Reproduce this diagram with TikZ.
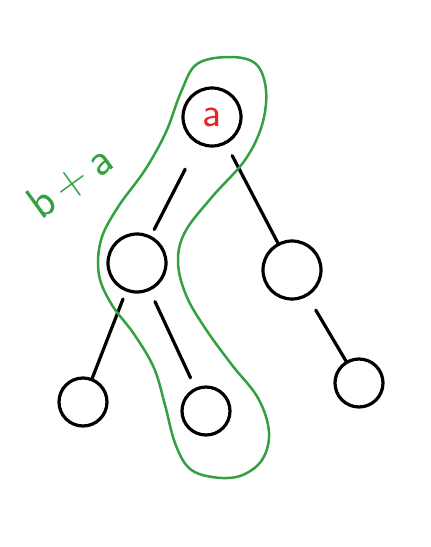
\documentclass[tikz,border=0pt]{standalone}
\usepackage{xcolor}
\usepackage{tikz}
\usetikzlibrary{positioning}
\definecolor{penred}{RGB}{228,38,38}
\definecolor{pengreen}{RGB}{52,160,64}

\begin{document}
\begin{tikzpicture}[
  x=1pt, y=-1pt,
  vertex/.style={draw=black, circle, line width=3.2pt, inner sep=0pt},
  big/.style={vertex, minimum size=58pt},
  small/.style={vertex, minimum size=48pt},
  edge/.style={draw=black, line width=3.2pt, line cap=round},
  loop/.style={draw=pengreen, line width=2.5pt},
]
\useasboundingbox (0,0) rectangle (431,547);

% tree
\node[big] (root) at (212,117) {};
\node[font=\fontsize{42}{42}\sffamily, text=penred] (rootlbl) at (root.center) {a};
\node[big] (lc) at (137,263) {};
\node[big] (rc) at (292,270) {};
\node[small] (llc) at (83,402) {};
\node[small] (lrc) at (206,411) {};
\node[small] (rrc) at (359,383) {};

\draw[edge, shorten <=28pt, shorten >=7pt] (root) -- (lc);
\draw[edge, shorten <=13pt] (root) -- (rc);
\draw[edge, shorten <=8pt] (lc) -- (llc);
\draw[edge, shorten <=12pt, shorten >=11pt] (lc) -- (lrc);
\draw[edge, shorten <=16pt] (rc) -- (rrc);

% path b+a
\draw[loop] plot[smooth cycle, tension=0.6] coordinates {
  (197,64) (230,57) (256,64) (266,90) (262,125) (245,160) (212,197)
  (185,232) (178,262) (186,295) (205,328) (232,365) (258,398) (269,432)
  (262,460) (240,476) (212,477) (189,468) (175,443) (165,405) (154,368)
  (134,334) (112,305) (99,275) (101,240) (118,207) (145,170) (166,132)
  (181,92)};
\node[font=\fontsize{46}{46}\sffamily, text=pengreen, rotate=36] (pathlbl) at (70,182) {b\kern8pt+\kern8pt a};
\end{tikzpicture}
\end{document}
